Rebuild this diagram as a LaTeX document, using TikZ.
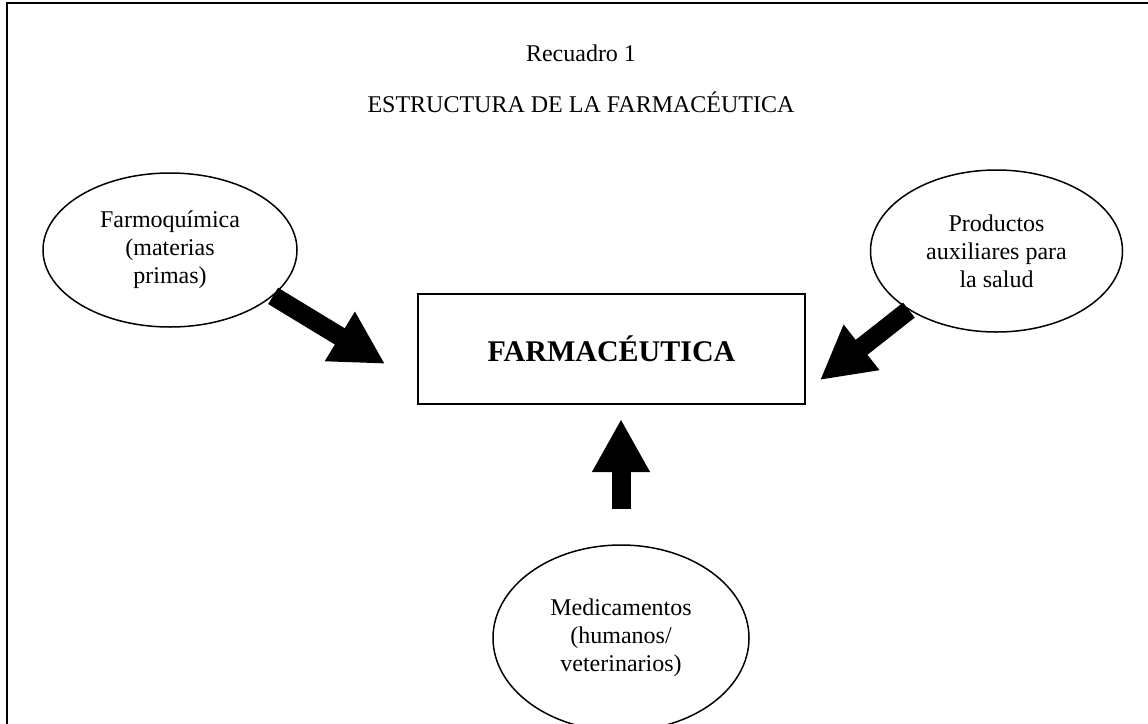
\documentclass[tikz,border=0pt]{standalone}
\usepackage{fontspec}
\setmainfont{Liberation Serif}
\usetikzlibrary{arrows.meta,shapes.geometric}
\tikzstyle{elip} = [draw, ellipse, line width=1.5pt, inner sep=0pt, align=center, font=\fontsize{24}{28}\selectfont]
\tikzstyle{fl} = [line width=19pt, -{Triangle[length=53pt,width=54pt]}]
\tikzstyle{txt} = [anchor=base, font=\fontsize{24}{28}\selectfont]

\begin{document}
\begin{tikzpicture}[yscale=-1, x=1pt, y=1pt]
	\useasboundingbox (0,0) rectangle (1148,723);
	\clip (0,0) rectangle (1148,723);
	\draw[line width=2pt] (7,3) rectangle (1170,760);
	\node[txt] (rec) at (581,61) {Recuadro 1};
	\node[txt] (tit) at (581,112) {ESTRUCTURA DE LA FARMACÉUTICA};
	\node[elip, minimum width=254pt, minimum height=154pt] (farmo) at (170,250) {Farmoquímica\\(materias\\primas)};
	\node[elip, minimum width=252pt, minimum height=162pt] (prod) at (996.5,251) {Productos\\auxiliares para\\la salud};
	\node[elip, minimum width=256pt, minimum height=186pt] (medic) at (621,638) {Medicamentos\\(humanos/\\veterinarios)};
	\node[draw, line width=2pt, minimum width=387pt, minimum height=110pt, font=\fontsize{30}{36}\selectfont\bfseries] (farma) at (611.5,349) {FARMACÉUTICA};
	\draw[fl] (farmo.-24) -- ++(112,68);
	\draw[fl] (prod.214) -- ++(-89,70);
	\draw[fl, shorten <=35pt, shorten >=14pt] (medic.north) -- (medic.north |- farma.south);
\end{tikzpicture}
\end{document}
